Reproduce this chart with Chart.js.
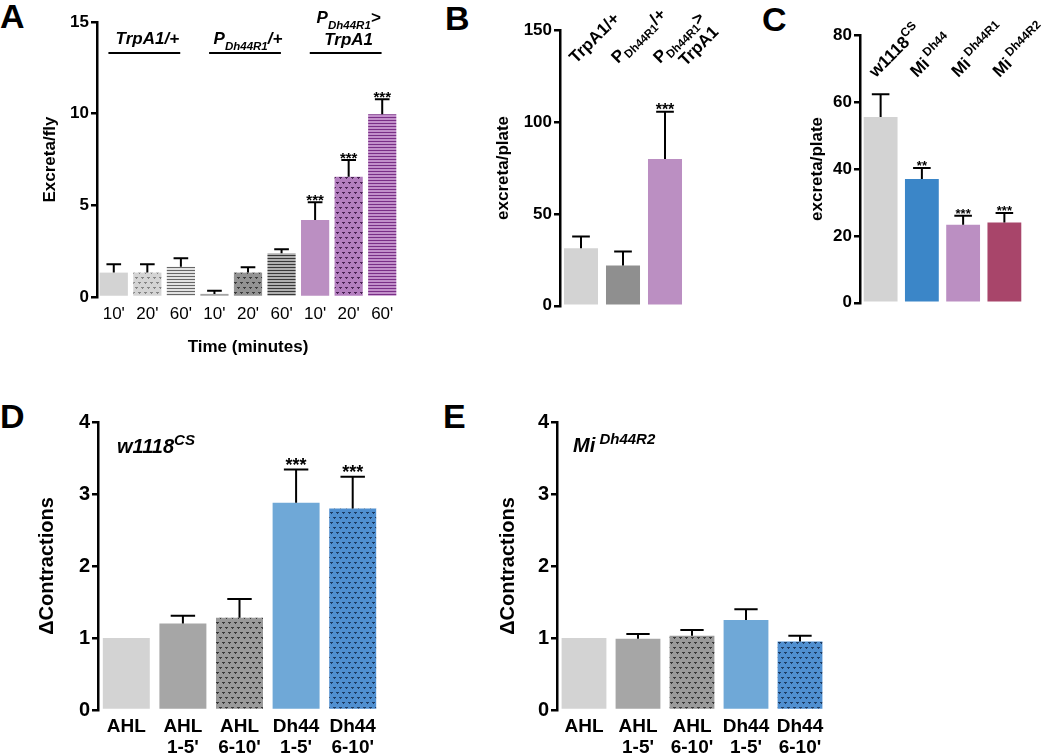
<!DOCTYPE html>
<html>
<head>
<meta charset="utf-8">
<script src="https://cdn.jsdelivr.net/npm/chart.js@4.4.1/dist/chart.umd.min.js"></script>
<style>
  body { margin: 0; background: #fff; width: 1050px; height: 756px; position: relative; overflow: hidden;
         font-family: 'Liberation Sans', Arial, sans-serif; }
  canvas { position: absolute; }
  .letter { position: absolute; font-weight: bold; font-size: 34px; line-height: 1; color: #000; }
</style>
</head>
<body>
<div class="letter" style="left:0px;top:-1px">A</div>
<div class="letter" style="left:445px;top:1px">B</div>
<div class="letter" style="left:762px;top:2px">C</div>
<div class="letter" style="left:0px;top:399px">D</div>
<div class="letter" style="left:443px;top:399px">E</div>

<canvas id="chartA" width="405" height="358" style="left:0px;top:0px"></canvas>
<canvas id="chartB" width="300" height="318" style="left:440px;top:0px"></canvas>
<canvas id="chartC" width="270" height="315" style="left:780px;top:0px"></canvas>
<canvas id="chartD" width="450" height="376" style="left:0px;top:380px"></canvas>
<canvas id="chartE" width="560" height="376" style="left:490px;top:380px"></canvas>

<script>
const FAM = "'Liberation Sans', Arial, Helvetica, sans-serif";
Chart.defaults.font.family = FAM;
Chart.defaults.color = '#000';

// ---- panel A: excreta per fly over time ----
const aLabels = ["10'", "20'", "60'", "10'", "20'", "60'", "10'", "20'", "60'"];
const aMeans  = [1.33, 1.33, 1.65, 0.17, 1.33, 2.38, 4.2, 6.56, 9.97];
const aSem    = [0.45, 0.45, 0.46, 0.17, 0.29, 0.22, 0.97, 0.91, 0.81];
const aStars  = ['', '', '', '', '', '', '***', '***', '***'];

// ---- panel B: excreta per plate ----
const bLabels = ['TrpA1/+', 'PDh44R1/+', 'PDh44R1>TrpA1'];
const bMeans  = [31.3, 21.9, 79.9];
const bSem    = [6.4, 7.6, 25.7];
const bStars  = ['', '', '***'];

// ---- panel C: excreta per plate, mutants ----
const cLabels = ['w1118CS', 'MiDh44', 'MiDh44R1', 'MiDh44R2'];
const cMeans  = [55.5, 37, 23.3, 24];
const cSem    = [6.8, 3.3, 2.7, 2.8];
const cStars  = ['', '**', '***', '***'];

// ---- panels D / E: delta contractions ----
const deLabels = [['AHL'], ['AHL', "1-5'"], ['AHL', "6-10'"], ['Dh44', "1-5'"], ['Dh44', "6-10'"]];
const dMeans = [1, 1.2, 1.28, 2.88, 2.8];
const dSem   = [0, 0.11, 0.26, 0.46, 0.44];
const dStars = ['', '', '', '***', '***'];
const eMeans = [1, 0.99, 1.03, 1.25, 0.95];
const eSem   = [0, 0.065, 0.08, 0.15, 0.08];
const eStars = ['', '', '', '', ''];

// rich text (sub/superscripts) for genotype names
const aGroups = [
  { mid: 1, lines: [[['TrpA1/+', '']]] },
  { mid: 4, lines: [[['P', ''], ['Dh44R1', 'sub'], ['/+', '']]] },
  { mid: 7, lines: [[['P', ''], ['Dh44R1', 'sub'], ['>', '']], [['TrpA1', '']]] }
];
const bRich = [
  [[['TrpA1/+', '']]],
  [[['P', ''], ['Dh44R1', 'sub'], ['/+', '']]],
  [[['P', ''], ['Dh44R1', 'sub'], ['>', '']], [['TrpA1', '']]]
];
const cRich = [
  [['w1118', ''], ['CS', 'sup']],
  [['Mi', ''], [' Dh44', 'sup']],
  [['Mi', ''], [' Dh44R1', 'sup']],
  [['Mi', ''], [' Dh44R2', 'sup']]
];

function dotPattern(bg, fg) {
  const c = document.createElement('canvas');
  c.width = 6; c.height = 10;
  const g = c.getContext('2d');
  g.fillStyle = bg; g.fillRect(0, 0, 6, 10);
  g.fillStyle = fg;
  [[0, 2], [3, 7]].forEach(([x, y]) => {
    g.fillRect(x, y, 3, 1);
    g.fillRect(x + 1, y + 1, 1, 1);
  });
  return g.createPattern(c, 'repeat');
}

function stripePattern(light, dark) {
  const c = document.createElement('canvas');
  c.width = 4; c.height = 3;
  const g = c.getContext('2d');
  g.fillStyle = light; g.fillRect(0, 0, 4, 3);
  g.fillStyle = dark; g.fillRect(0, 0, 4, 1);
  return g.createPattern(c, 'repeat');
}

function drawRich(ctx, parts, x, y, st) {
  let cx = x;
  for (const [t, k] of parts) {
    ctx.font = `${st.style} ${k ? st.small : st.size}px ${FAM}`;
    const dy = k === 'sub' ? st.subDy : (k === 'sup' ? st.supDy : 0);
    ctx.fillText(t, cx, y + dy);
    cx += ctx.measureText(t).width;
  }
  return cx - x;
}

function richWidth(ctx, parts, st) {
  let w = 0;
  for (const [t, k] of parts) {
    ctx.font = `${st.style} ${k ? st.small : st.size}px ${FAM}`;
    w += ctx.measureText(t).width;
  }
  return w;
}

function extrasPlugin(means, sem, stars, starSize, starDy, extra) {
  return {
    id: 'extras',
    afterDatasetsDraw(chart) {
      const ctx = chart.ctx;
      const ys = chart.scales.y;
      const meta = chart.getDatasetMeta(0);
      ctx.save();
      ctx.strokeStyle = '#000';
      ctx.fillStyle = '#000';
      ctx.lineWidth = 2;
      meta.data.forEach((bar, i) => {
        if (!sem[i]) return;
        const top = ys.getPixelForValue(means[i] + sem[i]);
        const half = bar.width * 0.26;
        ctx.beginPath();
        ctx.moveTo(bar.x, bar.y);
        ctx.lineTo(bar.x, top);
        ctx.moveTo(bar.x - half, top);
        ctx.lineTo(bar.x + half, top);
        ctx.stroke();
        if (stars[i]) {
          ctx.font = `bold ${starSize}px ${FAM}`;
          ctx.textAlign = 'center';
          ctx.textBaseline = 'alphabetic';
          ctx.fillText(stars[i], bar.x, top + starDy);
        }
      });
      ctx.textAlign = 'left';
      ctx.textBaseline = 'alphabetic';
      if (extra) extra(chart, ctx);
      ctx.restore();
    }
  };
}

function yAxis(min, max, step, title, size, width) {
  return {
    min: min, max: max,
    ticks: { stepSize: step, color: '#000', padding: 2, font: { size: size, weight: 'bold' } },
    grid: { display: true, drawOnChartArea: false, drawTicks: true, tickLength: 6, color: '#000', lineWidth: 2.5 },
    border: { display: true, color: '#000', width: 2.5 },
    title: { display: true, text: title, color: '#000', padding: 0, font: { size: size, weight: 'bold' } },
    afterFit(s) { s.width = width; }
  };
}

function makeChart(id, labels, means, colors, barPct, padding, yOpts, xOpts, plugin) {
  return new Chart(document.getElementById(id), {
    type: 'bar',
    data: {
      labels: labels,
      datasets: [{
        data: means,
        backgroundColor: colors,
        borderWidth: 0,
        barPercentage: barPct,
        categoryPercentage: 1
      }]
    },
    options: {
      responsive: false,
      animation: false,
      devicePixelRatio: 1,
      events: [],
      layout: { padding: padding },
      plugins: { legend: { display: false }, tooltip: { enabled: false } },
      scales: { x: xOpts, y: yOpts }
    },
    plugins: [plugin]
  });
}

// ---- A ----
const aColors = [
  '#d3d3d3', dotPattern('#d4d4d4', '#858585'), stripePattern('#e2e2e2', '#666666'),
  '#a4a4a4', dotPattern('#939393', '#3c3c3c'), stripePattern('#b0b0b0', '#383838'),
  '#bb8fc2', dotPattern('#b47fbf', '#4a2254'), stripePattern('#c290ca', '#7a2f87')
];
const aText = { style: 'italic bold', size: 17, small: 11.5, subDy: 5.5, supDy: -7 };
makeChart('chartA', aLabels, aMeans, aColors, 0.84,
  { left: 40, top: 22, right: 6, bottom: 0 },
  yAxis(0, 15, 5, 'Excreta/fly', 17, 57),
  {
    grid: { display: false, drawTicks: false }, border: { display: false },
    ticks: { color: '#000', padding: 7, maxRotation: 0, autoSkip: false, font: { size: 17 } },
    title: { display: true, text: 'Time (minutes)', color: '#000', padding: 0, font: { size: 17, weight: 'bold' } },
    afterFit(s) { s.height = 61; }
  },
  extrasPlugin(aMeans, aSem, aStars, 15, 3, (chart, ctx) => {
    const xs = chart.scales.x;
    const cw = xs.getPixelForValue(1) - xs.getPixelForValue(0);
    aGroups.forEach(g => {
      const cx = xs.getPixelForValue(g.mid);
      ctx.lineWidth = 2;
      ctx.beginPath();
      ctx.moveTo(cx - 3 - 1.07 * cw, 53);
      ctx.lineTo(cx - 3 + 1.07 * cw, 53);
      ctx.stroke();
      g.lines.forEach((parts, j) => {
        const base = g.lines.length === 1 ? 44 : (j === 0 ? 23 : 45);
        const w = richWidth(ctx, parts, aText);
        drawRich(ctx, parts, cx - w / 2, base, aText);
      });
    });
  })
);

// ---- B ----
const bText = { style: 'bold', size: 17, small: 11.5, subDy: 4, supDy: -7 };
makeChart('chartB', bLabels, bMeans, ['#d3d3d3', '#8f8f8f', '#bb8fc2'], 0.81,
  { left: 53, top: 30, right: 54, bottom: 12 },
  yAxis(0, 150, 50, 'excreta/plate', 17, 67),
  { display: false },
  extrasPlugin(bMeans, bSem, bStars, 16, 3, (chart, ctx) => {
    const xs = chart.scales.x;
    bRich.forEach((lines, i) => {
      ctx.save();
      ctx.translate(xs.getPixelForValue(i) - 5, 64);
      ctx.rotate(-Math.PI / 4);
      lines.forEach((parts, j) => drawRich(ctx, parts, j * 16, j * 20, bText));
      ctx.restore();
    });
  })
);

// ---- C ----
const cText = { style: 'bold', size: 17, small: 12, subDy: 4, supDy: -7.5 };
makeChart('chartC', cLabels, cMeans, ['#d3d3d3', '#3b86c8', '#bb8fc2', '#a8456a'], 0.82,
  { left: 27, top: 35, right: 25, bottom: 12 },
  yAxis(0, 80, 20, 'excreta/plate', 17, 53),
  { display: false },
  extrasPlugin(cMeans, cSem, cStars, 13, 2, (chart, ctx) => {
    const xs = chart.scales.x;
    cRich.forEach((parts, i) => {
      ctx.save();
      ctx.translate(xs.getPixelForValue(i) - 5, 78);
      ctx.rotate(-Math.PI / 4);
      drawRich(ctx, parts, 0, 0, cText);
      ctx.restore();
    });
  })
);

// ---- D / E ----
const deX = {
  grid: { display: false, drawTicks: false }, border: { display: false },
  ticks: { color: '#000', padding: 6, maxRotation: 0, autoSkip: false, font: { size: 19, weight: 'bold', lineHeight: 1.1 } },
  afterFit(s) { s.height = 46; }
};
const deText = { style: 'italic bold', size: 20, small: 15, subDy: 5, supDy: -8 };

makeChart('chartD', deLabels, dMeans,
  ['#d3d3d3', '#a6a6a6', dotPattern('#9a9a9a', '#383838'), '#6fa8d7', dotPattern('#4f8fd0', '#1d3c63')], 0.83,
  { left: 35, top: 42, right: 69, bottom: 0 },
  yAxis(0, 4, 1, 'ΔContractions', 20, 63),
  deX,
  extrasPlugin(dMeans, dSem, dStars, 18, 1, (chart, ctx) => {
    drawRich(ctx, [['w1118', ''], ['CS', 'sup']], chart.chartArea.left + 19, chart.chartArea.top + 31, deText);
  })
);

makeChart('chartE', deLabels, eMeans,
  ['#d3d3d3', '#a6a6a6', dotPattern('#9a9a9a', '#383838'), '#6fa8d7', dotPattern('#4f8fd0', '#1d3c63')], 0.83,
  { left: 6, top: 42, right: 223, bottom: 0 },
  yAxis(0, 4, 1, 'ΔContractions', 20, 61),
  deX,
  extrasPlugin(eMeans, eSem, eStars, 18, 1, (chart, ctx) => {
    drawRich(ctx, [['Mi', ''], [' Dh44R2', 'sup']], chart.chartArea.left + 16, chart.chartArea.top + 30, deText);
  })
);
</script>
</body>
</html>
